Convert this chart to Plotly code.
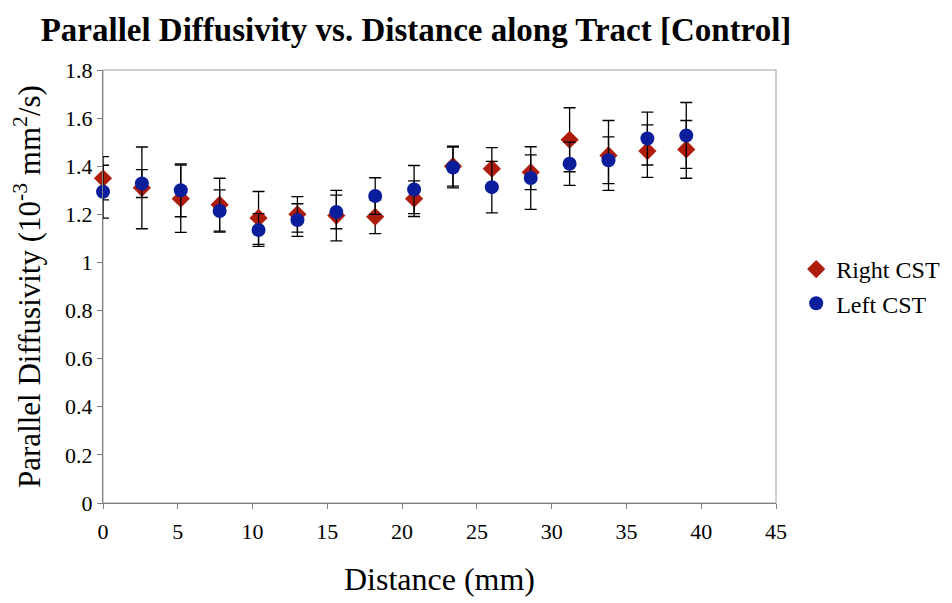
import plotly.graph_objects as go

distance = [0, 2.6, 5.2, 7.8, 10.4, 13.0, 15.6, 18.2, 20.8, 23.4, 26.0, 28.6, 31.2, 33.8, 36.4, 39.0]
right_cst = [1.35, 1.31, 1.265, 1.24, 1.185, 1.20, 1.195, 1.19, 1.265, 1.40, 1.39, 1.375, 1.51, 1.445, 1.463, 1.47]
right_err = [0.09, 0.17, 0.14, 0.11, 0.11, 0.074, 0.105, 0.07, 0.074, 0.083, 0.087, 0.072, 0.133, 0.145, 0.109, 0.12]
left_cst = [1.294, 1.328, 1.30, 1.214, 1.135, 1.176, 1.21, 1.276, 1.303, 1.395, 1.313, 1.351, 1.41, 1.425, 1.515, 1.528]
left_err = [0.11, 0.058, 0.11, 0.088, 0.068, 0.068, 0.07, 0.076, 0.1, 0.085, 0.107, 0.13, 0.09, 0.097, 0.11, 0.137]

font_family = "Liberation Serif"
red = "#b01c0c"
blue = "#0a1e9c"

W, H = 944, 595  # page body adds an 8px margin

fig = go.Figure()
fig.add_trace(go.Scatter(
    x=distance, y=right_cst, mode="markers", name="Right CST", cliponaxis=False,
    marker=dict(symbol="diamond", size=14, color=red),
    error_y=dict(type="data", array=right_err, visible=True, color="black", thickness=1.3, width=6),
))
fig.add_trace(go.Scatter(
    x=distance, y=left_cst, mode="markers", name="Left CST", cliponaxis=False,
    marker=dict(symbol="circle", size=14, color=blue),
    error_y=dict(type="data", array=left_err, visible=True, color="black", thickness=1.3, width=6),
))

fig.update_layout(
    width=W, height=H,
    paper_bgcolor="white", plot_bgcolor="white",
    margin=dict(l=95, r=176, t=62, b=100, autoexpand=False),
    font=dict(family=font_family, color="black", size=22),
    title=dict(text="<b>Parallel Diffusivity vs. Distance along Tract [Control]</b>",
               x=408 / W, xanchor="center", xref="container",
               y=1 - 21 / H, yanchor="middle", yref="container",
               font=dict(size=33, family=font_family, color="black")),
    legend=dict(x=1.03, y=0.5, xanchor="left", yanchor="middle",
                font=dict(size=24, family=font_family), itemwidth=30,
                tracegroupgap=2),
    showlegend=True,
)
fig.update_xaxes(
    range=[0, 45], tickvals=[0, 5, 10, 15, 20, 25, 30, 35, 40, 45],
    showgrid=False, zeroline=False, showline=True, linecolor="#808080", linewidth=1,
    mirror=False, ticks="outside", ticklen=5, tickcolor="#808080", automargin=False,
    ticklabelstandoff=4,
    tickfont=dict(size=22), title=dict(text="Distance (mm)", font=dict(size=32), standoff=24),
)
fig.update_yaxes(
    range=[0, 1.8], tickvals=[0, 0.2, 0.4, 0.6, 0.8, 1.0, 1.2, 1.4, 1.6, 1.8],
    ticktext=["0", "0.2", "0.4", "0.6", "0.8", "1", "1.2", "1.4", "1.6", "1.8"],
    showgrid=False, zeroline=False, showline=True, linecolor="#808080", linewidth=1,
    ticks="outside", ticklen=5, tickcolor="#808080", automargin=False,
    tickfont=dict(size=22),
    title=dict(text="Parallel Diffusivity (10<sup>-3</sup> mm<sup>2</sup>/s)", font=dict(size=31), standoff=18),
)
fig.add_shape(type="rect", xref="paper", yref="paper", x0=0, y0=0, x1=1, y1=1,
              line=dict(color="#c0c0c0", width=1.5), layer="below")

fig.write_html("out.html")
